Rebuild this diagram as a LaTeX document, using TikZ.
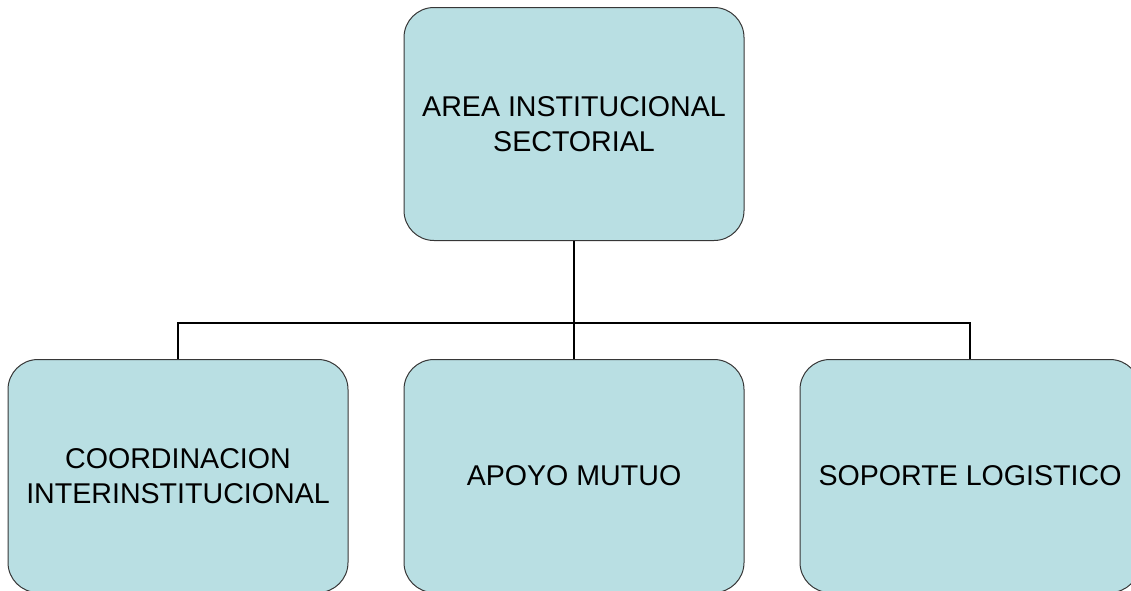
\documentclass[tikz,border=0pt]{standalone}
\usepackage{fontspec}
\setmainfont{Liberation Sans}
\usepackage{tikz}
\usetikzlibrary{positioning, calc}
\definecolor{boxfill}{RGB}{185,223,227}
\definecolor{boxline}{RGB}{55,55,55}

\begin{document}
\begin{tikzpicture}[
            x = 1pt, y = 1pt,
            node distance = 55pt, % gap between boxes
            very thick % line style
        ]

        \tikzstyle{unit}=[
            draw = boxline,
            line width = 1pt,
            fill = boxfill,
            rounded corners = 30pt,
            minimum width = 340pt,
            minimum height = 233pt,
            align = center,
            font = \fontsize{28.6}{35}\selectfont
        ]

        \useasboundingbox (0,0) rectangle (1131,-590);

        \node[unit] (area) at (574,-124) {AREA INSTITUCIONAL\\SECTORIAL};
        \node[unit] (apoyo) [below=118pt of area] {APOYO MUTUO};
        \node[unit] (coord) [left=of apoyo] {COORDINACION\\INTERINSTITUCIONAL};
        \node[unit] (soporte) [right=of apoyo] {SOPORTE LOGISTICO};

        \coordinate (bus) at ($(apoyo.north)+(0,36pt)$);

        \draw[line width=2.5pt] (area.south) -- (apoyo.north);
        \draw[line width=2.5pt] (coord.north) |- (bus) -| (soporte.north);

  \end{tikzpicture}
\end{document}
